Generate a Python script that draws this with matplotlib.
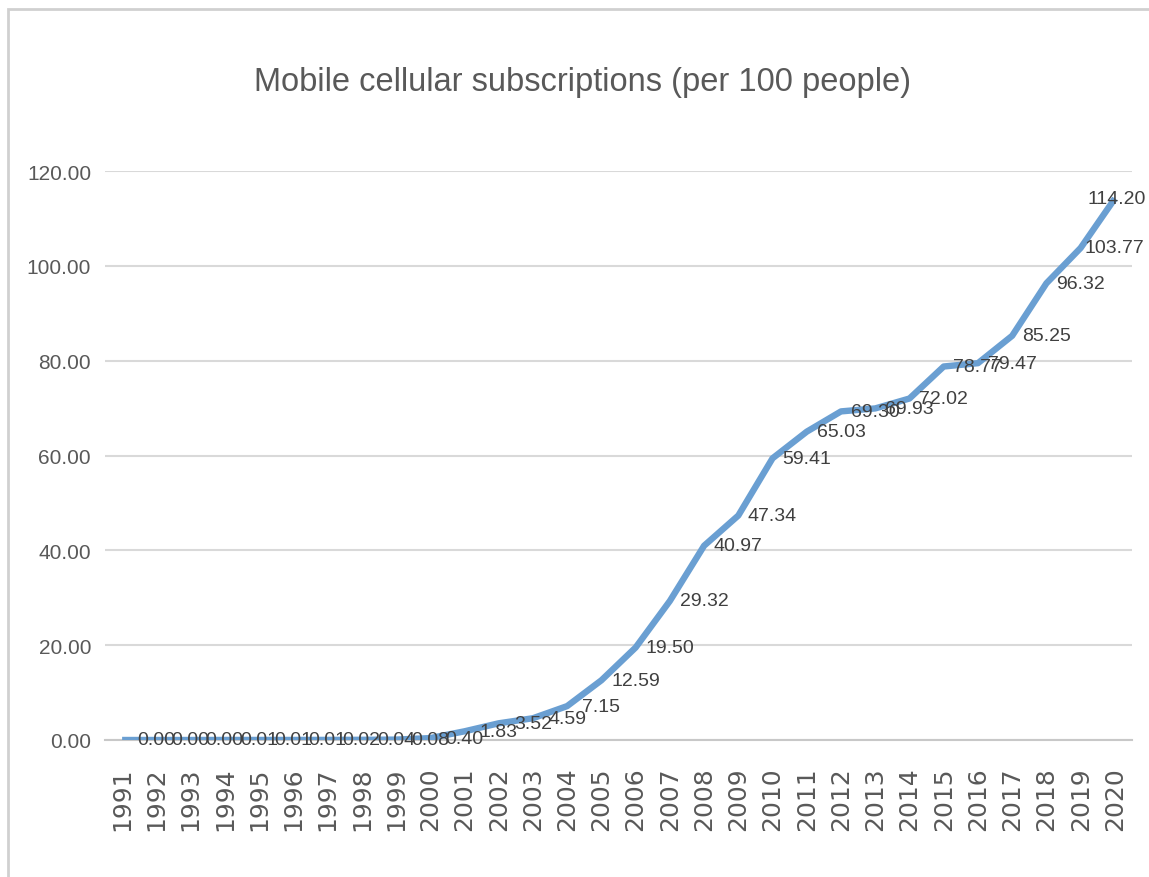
import matplotlib
matplotlib.use("Agg")
import matplotlib.pyplot as plt
from matplotlib.patches import Rectangle

years = [str(y) for y in range(1991, 2021)]
subscriptions = [0.00, 0.00, 0.00, 0.01, 0.01, 0.01, 0.02, 0.04, 0.08, 0.40,
                 1.83, 3.52, 4.59, 7.15, 12.59, 19.50, 29.32, 40.97, 47.34, 59.41,
                 65.03, 69.30, 69.93, 72.02, 78.77, 79.47, 85.25, 96.32, 103.77, 114.20]
yticks = [0, 20, 40, 60, 80, 100, 120]

font = ["Liberation Sans", "DejaVu Sans"]
text_gray = "#595959"
label_gray = "#404040"

fig = plt.figure(figsize=(11.49, 8.78), dpi=100)
ax = fig.add_axes([105 / 1149, 1 - 741 / 878, 1027 / 1149, (741 - 172) / 878])

x = list(range(len(years)))
ax.plot(x, subscriptions, color="#6A9FD2", linewidth=4.6, solid_joinstyle="round",
        solid_capstyle="butt", zorder=3)

# value labels sit one category to the right of each point
for i, v in enumerate(subscriptions):
    dx = 24.6 if i < len(subscriptions) - 1 else 1.5
    ax.annotate(f"{v:.2f}", (i, v), xytext=(dx, 0), textcoords="offset points",
                ha="center", va="center", fontsize=14, family=font,
                color=label_gray, zorder=4, annotation_clip=False)

ax.set_xlim(-0.5, len(years) - 0.5)
ax.set_ylim(0, 120)
ax.set_xticks(x)
ax.set_xticklabels(years, rotation=90, fontsize=18, color=text_gray,
                   family="DejaVu Sans")
ax.set_yticks(yticks)
ax.set_yticklabels([f"{t:.2f}" for t in yticks], fontsize=15, color=text_gray,
                   family=font)
ax.tick_params(axis="x", length=0, pad=19)
ax.tick_params(axis="y", length=0, pad=10)

ax.grid(axis="y", color="#D9D9D9", linewidth=1.5)
ax.set_axisbelow(True)
for side in ["top", "right", "left"]:
    ax.spines[side].set_visible(False)
ax.spines["bottom"].set_color("#C8C8C8")
ax.spines["bottom"].set_linewidth(1.5)

fig.text(582 / 1149, 1 - 83 / 878, "Mobile cellular subscriptions (per 100 people)",
         ha="center", va="center", fontsize=23.5, family=font, color=text_gray)

# chart area border
fig.patches.append(Rectangle((8 / 1149, -0.01), 1.02, 1 - 10 / 878 + 0.01,
                             transform=fig.transFigure, fill=False,
                             edgecolor="#D0D0D0", linewidth=2))

fig.savefig("out.png", dpi=100)
